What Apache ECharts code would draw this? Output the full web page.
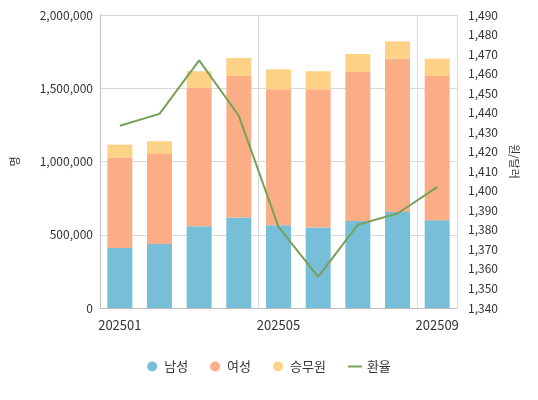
<!DOCTYPE html>
<html>
<head>
<meta charset="utf-8">
<script src="https://cdn.jsdelivr.net/npm/echarts@6/dist/echarts.min.js"></script>
<style>
  html, body { margin: 0; padding: 0; background: #fff; }
  #main { width: 538px; height: 400px; }
</style>
</head>
<body>
<div id="main"></div>
<script>
// 월별 승객 / 환율
var months = ['202501', '202502', '202503', '202504', '202505', '202506', '202507', '202508', '202509'];
var male = [410000, 437000, 558000, 617000, 565000, 549000, 594000, 655000, 599000];
var female = [615000, 614000, 944000, 967000, 928000, 944000, 1017000, 1047000, 985000];
var crew = [90000, 87000, 114000, 122000, 136000, 123000, 123000, 118000, 118000];
var rate = [1433.3, 1439.4, 1466.8, 1438.4, 1381.5, 1355.9, 1382.7, 1388.4, 1401.9];

var font = 'Noto Sans CJK KR';
var chart = echarts.init(document.getElementById('main'));

var option = {
    textStyle: { fontFamily: font },
    animation: false,
    grid: { left: 100, right: 81, top: 15, bottom: 92 },
    legend: {
        bottom: 22,
        left: 'center',
        itemGap: 22,
        itemWidth: 14,
        itemHeight: 10,
        textStyle: { fontSize: 13, color: '#333', fontFamily: font },
        data: [
            { name: '남성', icon: 'circle' },
            { name: '여성', icon: 'circle' },
            { name: '승무원', icon: 'circle' },
            { name: '환율', icon: 'path://M0,0 L14,0 L14,2 L0,2 Z' }
        ]
    },
    xAxis: {
        type: 'category',
        data: months,
        axisLine: { lineStyle: { color: '#bfbfbf' } },
        axisTick: { show: false },
        axisLabel: { interval: 3, color: '#333', fontSize: 13, margin: 11 },
        splitLine: { show: true, interval: 3, lineStyle: { color: '#d9d9d9' } }
    },
    yAxis: [
        {
            type: 'value',
            name: '명',
            nameLocation: 'middle',
            nameRotate: 90,
            nameGap: 80,
            nameTextStyle: { color: '#333', fontSize: 11 },
            min: 0,
            max: 2000000,
            interval: 500000,
            axisLine: { show: true, lineStyle: { color: '#bfbfbf' } },
            axisLabel: {
                color: '#333', fontSize: 12, margin: 7,
                formatter: function (v) { return v.toLocaleString('en-US'); }
            },
            splitLine: { lineStyle: { color: '#d9d9d9' } }
        },
        {
            type: 'value',
            name: '원/달러',
            nameLocation: 'middle',
            nameRotate: -90,
            nameGap: 52,
            nameTextStyle: { color: '#333', fontSize: 11 },
            min: 1340,
            max: 1490,
            interval: 10,
            axisLine: { show: true, lineStyle: { color: '#d9d9d9' } },
            axisLabel: {
                color: '#333', fontSize: 12, margin: 11,
                formatter: function (v) { return v.toLocaleString('en-US'); }
            },
            splitLine: { show: false }
        }
    ],
    series: [
        {
            name: '남성', type: 'bar', stack: 'p', barWidth: 25,
            itemStyle: { color: '#77bed9' }, data: male
        },
        {
            name: '여성', type: 'bar', stack: 'p',
            itemStyle: { color: '#fbad86' }, data: female
        },
        {
            name: '승무원', type: 'bar', stack: 'p',
            itemStyle: { color: '#fdd186' }, data: crew
        },
        {
            name: '환율', type: 'line', yAxisIndex: 1,
            showSymbol: false, symbol: 'none',
            lineStyle: { color: '#77a05a', width: 2 },
            itemStyle: { color: '#77a05a' },
            data: rate
        }
    ]
};
chart.setOption(option);
</script>
</body>
</html>
